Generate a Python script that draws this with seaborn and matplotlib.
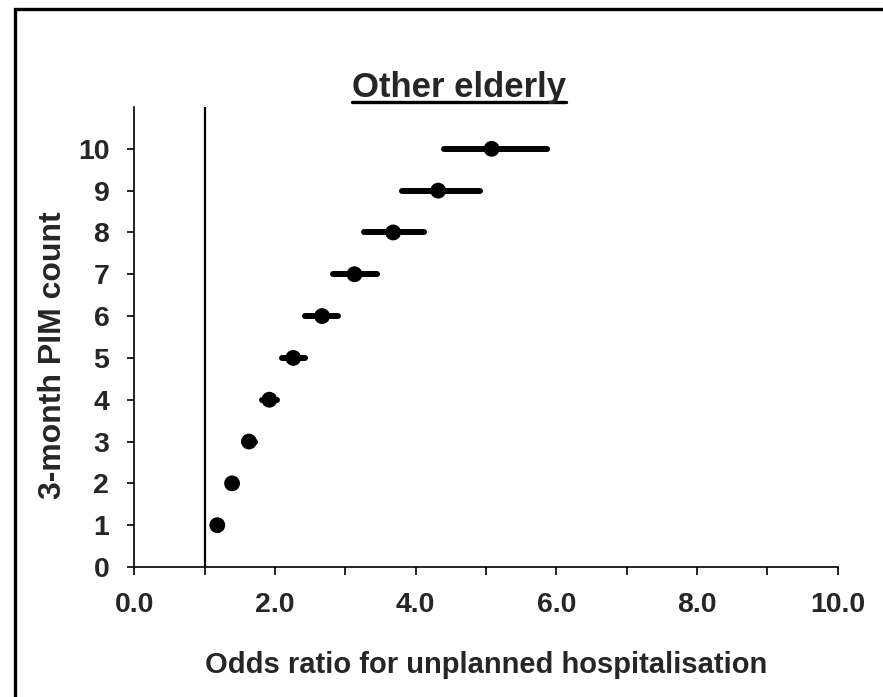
import matplotlib
matplotlib.use("Agg")
import matplotlib.pyplot as plt
from matplotlib.lines import Line2D
from matplotlib.patches import Rectangle
from matplotlib.ticker import MultipleLocator, FormatStrFormatter
import seaborn as sns
import pandas as pd

# 3-month PIM count vs odds ratio (95% CI)
pim_count = [1, 2, 3, 4, 5, 6, 7, 8, 9, 10]
odds_ratio = [1.18, 1.39, 1.63, 1.92, 2.26, 2.67, 3.13, 3.68, 4.32, 5.08]
ci_low = [1.13, 1.33, 1.56, 1.81, 2.10, 2.43, 2.83, 3.27, 3.80, 4.40]
ci_high = [1.23, 1.45, 1.71, 2.03, 2.42, 2.90, 3.45, 4.12, 4.92, 5.87]
x_ticks = [0, 2, 4, 6, 8, 10]
y_ticks = list(range(0, 11))

df = pd.DataFrame({'count': pim_count, 'or': odds_ratio, 'lo': ci_low, 'hi': ci_high})

sns.set_theme(style='ticks')
plt.rcParams['font.family'] = ['Liberation Sans', 'DejaVu Sans']
plt.rcParams['font.weight'] = 'bold'

fig = plt.figure(figsize=(8.83, 6.97), dpi=100)
ax = fig.add_axes([134.3 / 883, 1 - 567 / 697, (837.7 - 134.3) / 883, 460 / 697])

# reference line at OR = 1
ax.axvline(1, color='black', lw=1.6, zorder=1)

ci = ax.hlines(df['count'], df['lo'], df['hi'], color='black', lw=4.3, zorder=2)
ci.set_capstyle('round')
sns.scatterplot(data=df, x='or', y='count', ax=ax, color='black', s=130,
                edgecolor='none', zorder=3, legend=False)

ax.set_xlim(0, 10)
ax.set_ylim(0, 11)
ax.set_xticks(x_ticks)
ax.xaxis.set_minor_locator(MultipleLocator(1))
ax.xaxis.set_major_formatter(FormatStrFormatter('%.1f'))
ax.set_yticks(y_ticks)

sns.despine(ax=ax)
for side in ['left', 'bottom']:
    ax.spines[side].set_color('black')
    ax.spines[side].set_linewidth(1.2)

ax.tick_params(axis='x', which='both', length=6, width=1.2, color='black', direction='out')
ax.tick_params(axis='x', which='major', labelsize=20.5, pad=12)
ax.tick_params(axis='y', length=5, width=1.2, color='black', labelsize=20.5, pad=13)
for lab in ax.get_xticklabels() + ax.get_yticklabels():
    lab.set_fontweight('bold')

ax.set_xlabel('Odds ratio for unplanned hospitalisation', fontsize=21, fontweight='bold')
ax.set_ylabel('3-month PIM count', fontsize=23, fontweight='bold')
ax.xaxis.set_label_coords(0.5, -0.183)
ax.yaxis.set_label_coords(-0.094, 0.46)

title = fig.text(459 / 883, 1 - 97 / 697, 'Other elderly', ha='center', va='baseline',
                 fontsize=25, fontweight='bold')

# underline the title
fig.canvas.draw()
bb = title.get_window_extent().transformed(fig.transFigure.inverted())
uy = 1 - 101.5 / 697
fig.add_artist(Line2D([bb.x0, bb.x1], [uy, uy], color='black', lw=2.4,
                      transform=fig.transFigure))

# outer chart border (left/top edges visible)
fig.add_artist(Rectangle((15 / 883, -0.05), 1.1, 1 - 8.5 / 697 + 0.05, fill=False,
                         edgecolor='black', lw=2.4, transform=fig.transFigure, clip_on=False))

fig.savefig('out.png', dpi=100)
